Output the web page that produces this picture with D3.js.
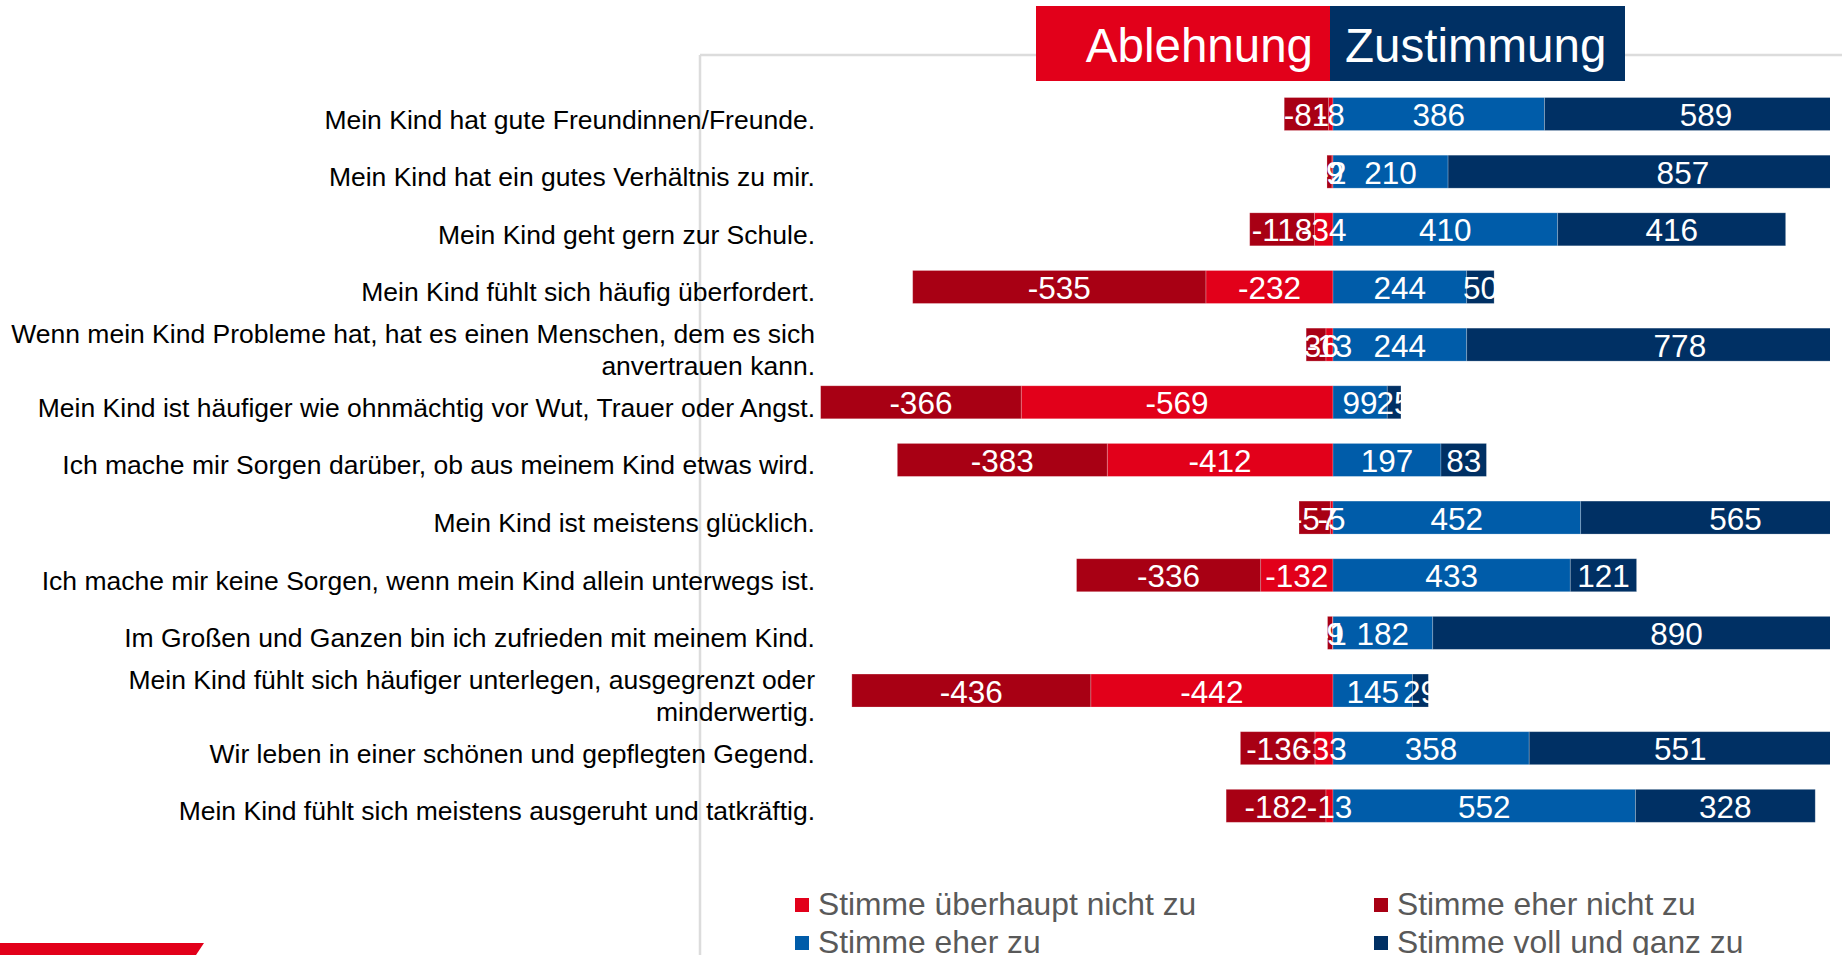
<!DOCTYPE html>
<html lang="de">
<head>
<meta charset="utf-8">
<script src="https://cdn.jsdelivr.net/npm/d3@7"></script>
<style>
  html, body { margin: 0; padding: 0; background: #ffffff; }
  svg { display: block; font-family: "Liberation Sans", Arial, Helvetica, sans-serif; }
</style>
</head>
<body>
<svg id="chart" width="1842" height="955"></svg>
<script>
// Aussagen (Reihenfolge von oben nach unten)
const categories = [
  "Mein Kind hat gute Freundinnen/Freunde.",
  "Mein Kind hat ein gutes Verhältnis zu mir.",
  "Mein Kind geht gern zur Schule.",
  "Mein Kind fühlt sich häufig überfordert.",
  "Wenn mein Kind Probleme hat, hat es einen Menschen, dem es sich anvertrauen kann.",
  "Mein Kind ist häufiger wie ohnmächtig vor Wut, Trauer oder Angst.",
  "Ich mache mir Sorgen darüber, ob aus meinem Kind etwas wird.",
  "Mein Kind ist meistens glücklich.",
  "Ich mache mir keine Sorgen, wenn mein Kind allein unterwegs ist.",
  "Im Großen und Ganzen bin ich zufrieden mit meinem Kind.",
  "Mein Kind fühlt sich häufiger unterlegen, ausgegrenzt oder minderwertig.",
  "Wir leben in einer schönen und gepflegten Gegend.",
  "Mein Kind fühlt sich meistens ausgeruht und tatkräftig."
];

// Antworthäufigkeiten je Aussage
const ueberhauptNicht = [-8, -2, -34, -232, -13, -569, -412, -5, -132, -1, -442, -33, -13];
const eherNicht       = [-81, -9, -118, -535, -36, -366, -383, -57, -336, -9, -436, -136, -182];
const eherZu          = [386, 210, 410, 244, 244, 99, 197, 452, 433, 182, 145, 358, 552];
const vollUndGanz     = [589, 857, 416, 50, 778, 25, 83, 565, 121, 890, 29, 551, 328];

const seriesNames = ["Stimme überhaupt nicht zu", "Stimme eher nicht zu", "Stimme eher zu", "Stimme voll und ganz zu"];
const headerLabels = ["Ablehnung", "Zustimmung"];

const colors = {
  ueberhauptNicht: "#e2001a",
  eherNicht: "#a80014",
  eherZu: "#005ca9",
  vollUndGanz: "#003064"
};

const svg = d3.select("#chart");
const W = 1842, H = 955;

// Skalen
const x = d3.scaleLinear().domain([-1000, 1000]).range([785, 1881]);
const step = 57.65;
const y = d3.scaleBand()
  .domain(categories)
  .range([85.2, 85.2 + step * categories.length])
  .paddingInner(0.428)
  .paddingOuter(0.214);

// Rahmenlinien
svg.append("line")
  .attr("x1", 700).attr("x2", W).attr("y1", 55).attr("y2", 55)
  .attr("stroke", "#dcdcdc").attr("stroke-width", 2.5);
svg.append("line")
  .attr("x1", 700).attr("x2", 700).attr("y1", 55).attr("y2", H)
  .attr("stroke", "#dcdcdc").attr("stroke-width", 2.5);

// Kopfzeile
const mid = 1330;
svg.append("rect").attr("x", 1036).attr("y", 6).attr("width", mid - 1036).attr("height", 75).attr("fill", "#e2001a");
svg.append("rect").attr("x", mid).attr("y", 6).attr("width", 1625 - mid).attr("height", 75).attr("fill", "#003064");
svg.append("text").attr("x", 1313).attr("y", 61.5).attr("text-anchor", "end")
  .attr("fill", "#fff").attr("font-size", 47.5).text(headerLabels[0]);
svg.append("text").attr("x", 1345).attr("y", 61.5).attr("text-anchor", "start")
  .attr("fill", "#fff").attr("font-size", 47.5).text(headerLabels[1]);

// Stapelsegmente aufbauen
const segments = [];
categories.forEach((c, i) => {
  const a = ueberhauptNicht[i], b = eherNicht[i];
  const p = eherZu[i], q = vollUndGanz[i];
  segments.push({ cat: c, key: "ueberhauptNicht", x0: 0, x1: a, v: a });
  segments.push({ cat: c, key: "eherNicht", x0: a, x1: a + b, v: b });
  segments.push({ cat: c, key: "eherZu", x0: 0, x1: p, v: p });
  segments.push({ cat: c, key: "vollUndGanz", x0: p, x1: p + q, v: q });
});

svg.append("defs").append("clipPath").attr("id", "plotClip")
  .append("rect").attr("x", 0).attr("y", 0).attr("width", 1830).attr("height", H);

const bars = svg.append("g").attr("clip-path", "url(#plotClip)");
bars.selectAll("rect")
  .data(segments)
  .join("rect")
  .attr("x", d => x(Math.min(d.x0, d.x1)))
  .attr("width", d => Math.abs(x(d.x1) - x(d.x0)))
  .attr("y", d => y(d.cat))
  .attr("height", y.bandwidth())
  .attr("fill", d => colors[d.key])
  .attr("stroke", "rgba(255,255,255,0.28)")
  .attr("stroke-width", 0.8);

// Wertbeschriftungen
svg.append("g").selectAll("text")
  .data(segments)
  .join("text")
  .attr("x", d => x((d.x0 + d.x1) / 2))
  .attr("y", d => y(d.cat) + y.bandwidth() / 2 + 12)
  .attr("text-anchor", "middle")
  .attr("fill", "#ffffff")
  .attr("font-size", 31.5)
  .text(d => String(d.v));

// Kategorienbeschriftungen mit Zeilenumbruch
const labelRight = 815;
const maxWidth = 835;
const lineH = 31.7;
const catG = svg.append("g");
categories.forEach(c => {
  const t = catG.append("text")
    .attr("x", labelRight)
    .attr("text-anchor", "end")
    .attr("font-size", 26.5)
    .attr("fill", "#000");
  const words = c.split(" ");
  const lines = [];
  let line = [];
  const probe = t.append("tspan");
  words.forEach(w => {
    line.push(w);
    probe.text(line.join(" "));
    if (probe.node().getComputedTextLength() > maxWidth && line.length > 1) {
      line.pop();
      lines.push(line.join(" "));
      line = [w];
    }
  });
  lines.push(line.join(" "));
  probe.remove();
  const cy = y(c) + y.bandwidth() / 2 + 14.5;
  const top = cy - (lines.length - 1) * lineH / 2;
  lines.forEach((l, k) => {
    t.append("tspan").attr("x", labelRight).attr("y", top + k * lineH).text(l);
  });
});

// Legende
const legendItems = [
  { name: seriesNames[0], color: colors.ueberhauptNicht, x: 795, y: 898 },
  { name: seriesNames[1], color: colors.eherNicht, x: 1374, y: 898 },
  { name: seriesNames[2], color: colors.eherZu, x: 795, y: 936 },
  { name: seriesNames[3], color: colors.vollUndGanz, x: 1374, y: 936 }
];
const lg = svg.append("g");
legendItems.forEach(it => {
  lg.append("rect").attr("x", it.x).attr("y", it.y).attr("width", 14).attr("height", 14).attr("fill", it.color);
  lg.append("text").attr("x", it.x + 23).attr("y", it.y + 17)
    .attr("font-size", 31.8).attr("fill", "#595959").text(it.name);
});

// Akzentbalken unten links
svg.append("path")
  .attr("d", "M0,943 L204,943 L196,955 L0,955 Z")
  .attr("fill", "#e2001a");
</script>
</body>
</html>
